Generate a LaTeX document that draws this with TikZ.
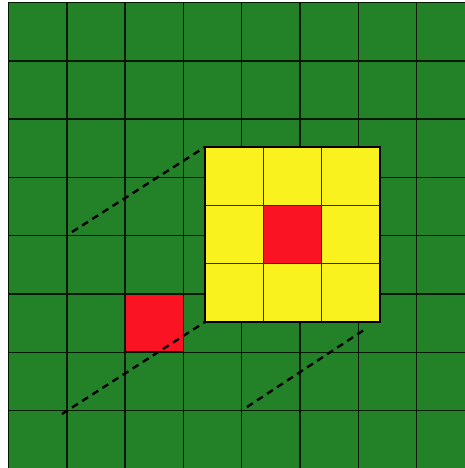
\documentclass[tikz,border=0pt]{standalone}
\definecolor{gridgreen}{RGB}{35,130,40}
\definecolor{kyellow}{RGB}{250,242,30}
\definecolor{kred}{RGB}{250,20,35}
\tikzset{
  cellline/.style={draw=black!90!green, line width=1.5pt},
  kernelline/.style={draw=black!80!kyellow, line width=1.3pt},
  kernelborder/.style={draw=black, line width=1.8pt},
  proj/.style={draw=black, line width=2.4pt, dash pattern=on 7pt off 5pt},
}
\begin{document}
\begin{tikzpicture}[x=1pt,y=-1pt]
\useasboundingbox (0,0) rectangle (465,468);
\clip (0,0) rectangle (465,468);
% green grid
\fill[gridgreen] (8.5,2.5) rectangle (475,480);
\foreach \i in {0,...,8} {
  \draw[cellline] ({8.5+58.3*\i},2.5) -- ({8.5+58.3*\i},480);
  \draw[cellline] (8.5,{2.5+58.3*\i}) -- (475,{2.5+58.3*\i});
}
% red input cell
\fill[kred] (125.1,293.9) rectangle (183.4,352.2);
\draw[cellline] (125.1,293.9) rectangle (183.4,352.2);
% yellow kernel
\fill[kyellow] (205,147) rectangle (380,322);
\fill[kred] (263.3,205.3) rectangle (321.7,263.7);
\foreach \k in {1,2} {
  \draw[kernelline] ({205+58.33*\k},147) -- ({205+58.33*\k},322);
  \draw[kernelline] (205,{147+58.33*\k}) -- (380,{147+58.33*\k});
}
\draw[kernelborder] (205,147) rectangle (380,322);
% projection lines
\coordinate (ktl) at (205,147);
\coordinate (kbl) at (205,322);
\coordinate (kbr) at (367,328);
\coordinate (ptl) at (72,232);
\coordinate (pbl) at (62,414);
\coordinate (pbr) at (247,407);
\draw[proj] (ptl) -- (ktl);
\draw[proj] (pbl) -- (kbl);
\draw[proj] (pbr) -- (kbr);
\end{tikzpicture}
\end{document}
